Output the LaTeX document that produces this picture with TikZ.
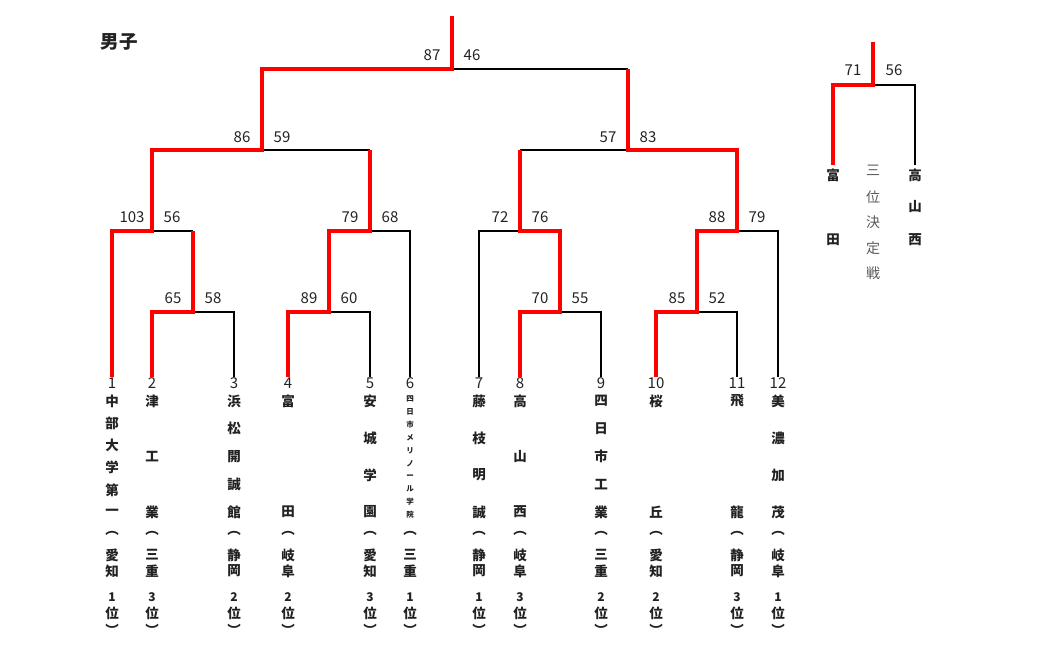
\documentclass[tikz,border=0pt]{standalone}
\usepackage{fontspec}
\setmainfont{Noto Sans CJK JP}
\definecolor{txt}{RGB}{34,34,34}
\definecolor{subtxt}{RGB}{90,90,90}
\newcommand\teamcol[7]{%
  \foreach \tch [count=\i] in {#4}{
    \node[ch] (t#1c\i) at (#2,{401+(\i-1)*111/(#3-1)}) {\tch};
  }
  \node[ch] (t#1o) at (#2,533) {︵};
  \node[ch] (t#1p) at (#2,555) {#5};
  \node[ch] (t#1q) at (#2,571) {#6};
  \node[rk] (t#1r) at (#2,597) {#7};
  \node[ch] (t#1u) at (#2,613) {位};
  \node[ch] (t#1e) at (#2,630) {︶};
}
\begin{document}
\begin{tikzpicture}[x=1pt,y=-1pt,
  win/.style={draw=red,line width=4.5pt,line join=miter},
  lose/.style={draw=black,line width=1.5pt},
  score/.style={font=\fontsize{15}{15}\selectfont,text=txt,inner sep=0pt},
  ch/.style={font=\bfseries\fontsize{13.5}{13.5}\selectfont,text=txt,inner sep=0pt},
  smallch/.style={font=\bfseries\fontsize{7.5}{7.5}\selectfont,text=txt,inner sep=0pt},
  rk/.style={font=\bfseries\fontsize{12}{12}\selectfont,text=txt,inner sep=0pt},
  subch/.style={font=\fontsize{14}{14}\selectfont,text=subtxt,inner sep=0pt},
  title/.style={font=\bfseries\fontsize{18.5}{18.5}\selectfont,text=txt,inner sep=0pt}]
\path[use as bounding box] (0,0) rectangle (1037,648);

\node[title] (title) at (119,42) {男子};

% leaves
\foreach \n/\x in {1/112,2/152,3/234,4/288,5/370,6/410,7/479,8/520,9/601,10/656,11/737,12/778}{
  \coordinate (L\n) at (\x,377);
  \node[score] (n\n) at (\x,383.5) {\n};
}
% junctions
\coordinate (m23) at (193,312);
\coordinate (m45) at (329,312);
\coordinate (m89) at (560,312);
\coordinate (m1011) at (697,312);
\coordinate (a) at (152,231);
\coordinate (b) at (370,231);
\coordinate (c) at (520,231);
\coordinate (d) at (737,231);
\coordinate (e) at (262,150);
\coordinate (f) at (628,150);
\coordinate (g) at (452,69);
\coordinate (top) at (452,16);

% losing lines
\draw[lose] (L3) |- (m23);
\draw[lose] (m23 |- a) -- (a);
\draw[lose] (L5) |- (m45);
\draw[lose] (L6) |- (b);
\draw[lose] (b |- e) -- (e);
\draw[lose] (L7) |- (c);
\draw[lose] (L9) |- (m89);
\draw[lose] (L11) |- (m1011);
\draw[lose] (L12) |- (d);
\draw[lose] (c |- f) -- (f);
\draw[lose] (f |- g) -- (g);

% winning lines
\draw[win] (L1) |- (a) |- (e) |- (g) -- (top);
\draw[win] (L2) |- (m23) -- (m23 |- a);
\draw[win] (L4) |- (m45) |- (b) -- (b |- e);
\draw[win] (L8) |- (m89) |- (c) -- (c |- f);
\draw[win] (L10) |- (m1011) |- (d) |- (f) -- (f |- g);

% scores
\foreach \j/\l/\r/\dy in {g/87/46/14, e/86/59/13, f/57/83/13, a/103/56/14, b/79/68/14, c/72/76/14, d/88/79/14, m23/65/58/14, m45/89/60/14, m89/70/55/14, m1011/85/52/14}{
  \node[score] (s\j l) at ([xshift=-20pt,yshift=\dy pt]\j) {\l};
  \node[score] (s\j r) at ([xshift=20pt,yshift=\dy pt]\j) {\r};
}

% team names
\teamcol{1}{112}{6}{中,部,大,学,第,一}{愛}{知}{1}
\teamcol{2}{152}{3}{津,工,業}{三}{重}{3}
\teamcol{3}{234}{5}{浜,松,開,誠,館}{静}{岡}{2}
\teamcol{4}{288}{2}{富,田}{岐}{阜}{2}
\teamcol{5}{370}{4}{安,城,学,園}{愛}{知}{3}
\foreach \tch [count=\i] in {四,日,市,メ,リ,ノ,ー,ル,学,院}{
  \node[smallch] (t6c\i) at (410,{399+(\i-1)*116/9}) {\tch};
}
\node[ch] (t6o) at (410,533) {︵};
\node[ch] (t6p) at (410,555) {三};
\node[ch] (t6q) at (410,571) {重};
\node[rk] (t6r) at (410,597) {1};
\node[ch] (t6u) at (410,613) {位};
\node[ch] (t6e) at (410,630) {︶};
\teamcol{7}{479}{4}{藤,枝,明,誠}{静}{岡}{1}
\teamcol{8}{520}{3}{高,山,西}{岐}{阜}{3}
\teamcol{9}{601}{5}{四,日,市,工,業}{三}{重}{2}
\teamcol{10}{656}{2}{桜,丘}{愛}{知}{2}
\teamcol{11}{737}{2}{飛,龍}{静}{岡}{3}
\teamcol{12}{778}{4}{美,濃,加,茂}{岐}{阜}{1}

% third place
\coordinate (T) at (873,42);
\coordinate (tp) at (873,85);
\coordinate (tl) at (833,165);
\coordinate (tr) at (915,165);
\draw[lose] (tr) |- (tp);
\draw[win] (tl) |- (tp) -- (T);
\node[score] (s3l) at (853,70) {71};
\node[score] (s3r) at (894,70) {56};
\node[ch] (u1) at (833,175) {富};
\node[ch] (u2) at (833,240) {田};
\node[ch] (w1) at (915,175) {高};
\node[ch] (w2) at (915,207) {山};
\node[ch] (w3) at (915,240) {西};
\foreach \tch/\yy [count=\i] in {三/170,位/197,決/222,定/248,戦/273}{
  \node[subch] (z\i) at (873,\yy) {\tch};
}
\end{tikzpicture}
\end{document}
